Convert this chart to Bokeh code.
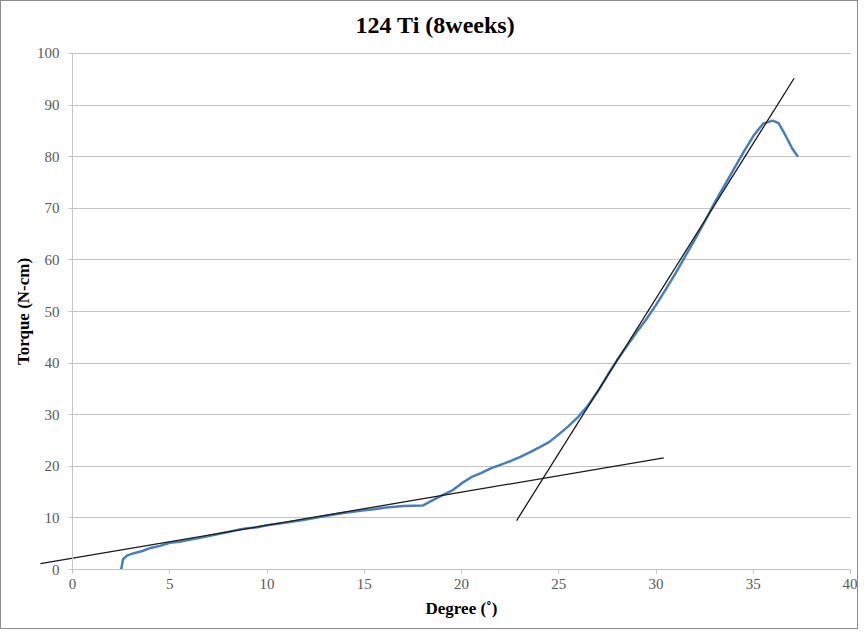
from bokeh.plotting import figure
from bokeh.models import Range1d, FixedTicker
from bokeh.embed import file_html
from bokeh.resources import INLINE

title_text = "124 Ti (8weeks)"
x_label = "Degree (˚)"
y_label = "Torque (N-cm)"

x_ticks = [0, 5, 10, 15, 20, 25, 30, 35, 40]
y_ticks = [0, 10, 20, 30, 40, 50, 60, 70, 80, 90, 100]

# measured torque curve
curve_x = [2.5, 2.55, 2.6, 2.8, 3.0, 3.3, 3.6, 4.0, 4.5, 5.0, 5.5, 6.0, 6.5, 7.0,
           7.5, 8.0, 8.5, 9.0, 9.5, 10.0, 11.0, 12.0, 13.0, 14.0, 15.0, 15.5, 16.0,
           17.0, 18.0, 18.5, 19.0, 19.5, 20.0, 20.5, 21.0, 21.5, 22.0, 22.5, 23.0,
           23.5, 24.0, 24.5, 25.0, 25.5, 26.0, 26.5, 27.0, 27.5, 28.0, 28.5, 29.0,
           29.5, 30.0, 30.5, 31.0, 31.5, 32.0, 32.5, 33.0, 33.5, 34.0, 34.5, 35.0,
           35.5, 36.0, 36.3, 36.6, 37.0, 37.3]
curve_y = [0.0, 1.0, 2.0, 2.7, 3.0, 3.3, 3.6, 4.2, 4.6, 5.2, 5.4, 5.8, 6.1, 6.5,
           6.9, 7.3, 7.7, 8.0, 8.2, 8.6, 9.1, 9.7, 10.4, 11.0, 11.5, 11.7, 12.0,
           12.3, 12.4, 13.4, 14.4, 15.3, 16.7, 17.9, 18.7, 19.6, 20.3, 21.0, 21.8,
           22.7, 23.7, 24.7, 26.2, 27.8, 29.6, 31.8, 34.5, 37.6, 40.6, 43.3, 46.0,
           48.5, 51.3, 54.3, 57.4, 60.7, 64.0, 67.4, 71.0, 74.3, 77.6, 80.9, 84.0,
           86.4, 87.0, 86.5, 84.5, 81.6, 80.0]

# tangent lines
fit_low_x = [-1.65, 30.4]
fit_low_y = [1.15, 21.65]
fit_high_x = [22.83, 37.1]
fit_high_y = [9.5, 95.2]

FONT = "Liberation Serif"
GRID = "#c4c4c4"

p = figure(width=858, height=629,
           x_range=Range1d(-3.65, 40.46), y_range=Range1d(-11.8, 101.74),
           output_backend="svg", toolbar_location=None,
           min_border_left=0, min_border_right=0,
           min_border_top=43, min_border_bottom=0,
           title=title_text,
           styles={"border": "1px solid #8c8c8c"})

p.outline_line_color = None
p.background_fill_color = "white"
p.border_fill_color = "white"

p.title.text_font = FONT
p.title.text_font_size = "24px"
p.title.text_font_style = "bold"
p.title.text_color = "#000000"
p.title.align = "left"
p.title.offset = 354
p.title.standoff = 14

p.xgrid.visible = False
p.ygrid.ticker = FixedTicker(ticks=y_ticks)
p.ygrid.grid_line_color = GRID
p.ygrid.cross_bounds = (0, 40)

for ax, ticks in ((p.xaxis[0], x_ticks), (p.yaxis[0], y_ticks)):
    ax.ticker = FixedTicker(ticks=ticks)
    ax.axis_line_color = GRID
    ax.major_tick_line_color = GRID
    ax.major_tick_out = 4
    ax.major_tick_in = 0
    ax.minor_tick_line_color = None
    ax.major_label_text_font = FONT
    ax.major_label_text_font_size = "15px"
    ax.major_label_text_color = "#595959"
    ax.axis_label_text_font = FONT
    ax.axis_label_text_font_size = "17px"
    ax.axis_label_text_font_style = "bold"
    ax.axis_label_text_color = "#000000"

p.xaxis.bounds = (0, 40)
p.xaxis.fixed_location = 0
p.xaxis.axis_label = x_label
p.xaxis.major_label_standoff = 5
p.xaxis.axis_label_standoff = 7

p.yaxis.bounds = (0, 100)
p.yaxis.fixed_location = 0
p.yaxis.axis_label = y_label
p.yaxis.major_label_standoff = 9
p.yaxis.axis_label_standoff = 1

p.line(curve_x, curve_y, line_color="#4a7ebb", line_width=2.5)
p.line(fit_low_x, fit_low_y, line_color="#1a1a1a", line_width=1.3)
p.line(fit_high_x, fit_high_y, line_color="#1a1a1a", line_width=1.3)

open("out.html", "w").write(file_html(p, INLINE))
